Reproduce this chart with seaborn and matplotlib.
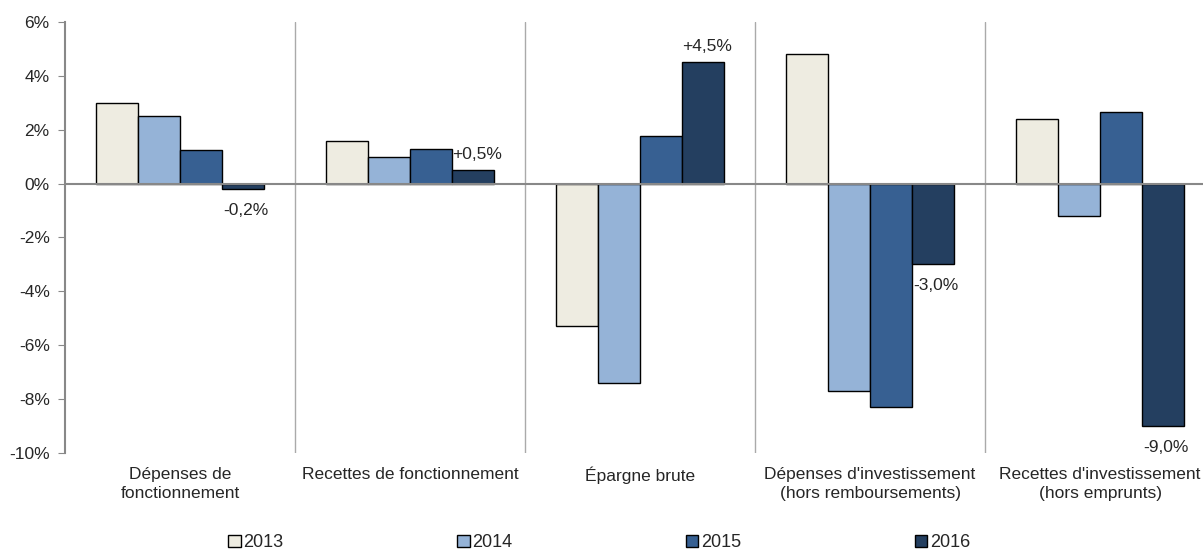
import pandas as pd
import matplotlib.pyplot as plt
import seaborn as sns

# données
categories = ["Dépenses de\nfonctionnement", "Recettes de fonctionnement", "Épargne brute",
              "Dépenses d'investissement\n(hors remboursements)", "Recettes d'investissement\n(hors emprunts)"]
years = ["2013", "2014", "2015", "2016"]
v2013 = [3.0, 1.6, -5.3, 4.8, 2.4]
v2014 = [2.5, 1.0, -7.4, -7.7, -1.2]
v2015 = [1.25, 1.3, 1.75, -8.3, 2.65]
v2016 = [-0.2, 0.5, 4.5, -3.0, -9.0]
colors = ["#EEECE1", "#95B3D7", "#376092", "#243F60"]

rows = []
for y, vals in zip(years, [v2013, v2014, v2015, v2016]):
    for c, v in zip(categories, vals):
        rows.append({"cat": c, "year": y, "val": v})
df = pd.DataFrame(rows)

sns.set_style("white")
plt.rcParams['font.family'] = ['Liberation Sans', 'DejaVu Sans']
fs = 12.5

fig = plt.figure(figsize=(12.03, 5.51), dpi=100)
ax = fig.add_axes([0.054, 0.178, 0.956, 0.782])

sns.barplot(data=df, x="cat", y="val", hue="year", palette=colors, width=0.73, gap=0,
            saturation=1, edgecolor="black", linewidth=1, ax=ax, legend=False)

ax.set_ylim(-10, 6)
ax.set_xlim(-0.5, len(categories) - 0.5)
ax.set_yticks(range(-10, 7, 2))
ax.set_yticklabels([f"{t}%" for t in range(-10, 7, 2)], fontsize=fs)
ax.tick_params(axis="y", length=5, color="#888888", direction="out", left=True, pad=6)
ax.tick_params(axis="x", length=0, pad=10)
ax.set_xticks(range(len(categories)))
ax.set_xticklabels(categories, fontsize=fs, linespacing=1.35)
ax.set_xlabel("")
ax.set_ylabel("")

for s in ["top", "right", "bottom"]:
    ax.spines[s].set_visible(False)
ax.spines["left"].set_color("#888888")
ax.spines["left"].set_linewidth(1.5)
ax.axhline(0, color="#888888", lw=1.5, zorder=3)
for i in range(1, len(categories)):
    ax.axvline(i - 0.5, color="#AAAAAA", lw=1)

# étiquettes 2016
bars16 = ax.containers[3]
for bar, v in zip(bars16, v2016):
    lab = f"{v:+.1f}%".replace(".", ",")
    xc = bar.get_x() + bar.get_width() / 2
    if v >= 0:
        ax.annotate(lab, (xc, v), xytext=(3, 6), textcoords="offset points",
                    ha="center", va="bottom", fontsize=fs)
    else:
        ax.annotate(lab, (xc, v), xytext=(2, -10), textcoords="offset points",
                    ha="center", va="top", fontsize=fs)

handles = [plt.Rectangle((0, 0), 1, 1, facecolor=c, edgecolor="black", lw=1) for c in colors]
fig.legend(handles, years, loc="lower center", bbox_to_anchor=(0.498, -0.03), ncol=4,
           frameon=False, fontsize=13, handlelength=0.7, handleheight=0.7,
           handletextpad=0.15, columnspacing=9.6)

fig.savefig("out.png", dpi=100)
